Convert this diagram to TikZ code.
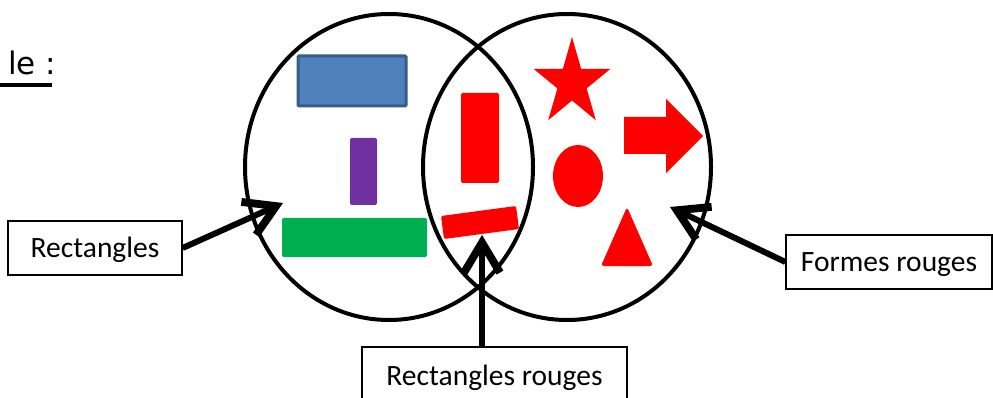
\documentclass[tikz,border=0pt]{standalone}
\usepackage{fontspec}
\setmainfont{Carlito}
\newfontfamily\titlefont{DejaVu Sans}
\usetikzlibrary{arrows.meta}
\definecolor{bluefill}{RGB}{79,129,189}
\definecolor{blueline}{RGB}{56,93,138}
\definecolor{purplefill}{RGB}{112,48,160}
\definecolor{greenfill}{RGB}{0,176,80}
\definecolor{redfill}{RGB}{255,0,0}
\begin{document}
\begin{tikzpicture}[x=1pt,y=-1pt,
  setline/.style={line width=4pt},
  labelbox/.style={draw, line width=1.2pt, inner sep=0pt, fill=white,
    text height=19pt, text depth=0pt,
    font=\fontsize{29.5}{35}\selectfont},
  conn/.style={line width=6pt, -{Straight Barb[length=30pt,width=36pt,line width=0pt 1.3,sharp]}},
  redshape/.style={fill=redfill}]
\useasboundingbox (0,0) rectangle (993,398);
\clip (0,0) rectangle (993,398);
% title
\node[anchor=base west, inner sep=0pt, font=\titlefont\fontsize{31}{36}\selectfont] (title) at (8,75) {le :};
\draw[line width=3.5pt] (0,85) -- (52,85);
% sets
\draw[setline] (389,167) ellipse [x radius=144pt, y radius=153pt];
\draw[setline] (567,167) ellipse [x radius=144pt, y radius=153pt];
% left shapes
\draw[fill=bluefill, draw=blueline, line width=3pt, rounded corners=1pt] (298,56) rectangle (406,106);
\fill[purplefill, rounded corners=2pt] (350,138) rectangle (377,205);
\fill[greenfill, rounded corners=2pt] (282,218) rectangle (427,257);
% intersection shapes
\fill[redshape, rounded corners=2pt] (461,93) rectangle (499,183);
\fill[redshape, rounded corners=2pt] (441,216) -- (516,206) -- (519,229) -- (444,239) -- cycle;
% right shapes
\fill[redshape] (572,37) -- (581.1,68.8) -- (610.5,68.8) -- (586.6,88.4) -- (595.8,120.2)
  -- (572,100.5) -- (548.2,120.2) -- (557.4,88.4) -- (533.5,68.8) -- (562.9,68.8) -- cycle;
\fill[redshape] (624,117) -- (666,117) -- (666,99) -- (703,136) -- (666,173) -- (666,154) -- (624,154) -- cycle;
\fill[redshape] (578,176) ellipse [x radius=25pt, y radius=31pt];
\fill[redshape, rounded corners=3pt] (627,207) -- (653,266) -- (601,266) -- cycle;
% label boxes
\node[labelbox, minimum width=174pt, minimum height=54pt] (rect) at (95,248) {Rectangles};
\node[labelbox, minimum width=265pt, minimum height=57pt] (rr) at (494.5,375.5) {Rectangles rouges};
\node[labelbox, minimum width=206pt, minimum height=54pt] (fr) at (889,262) {Formes rouges};
% connector tips
\coordinate (tipL) at (283,203);
\coordinate (tipM) at (482,235);
\coordinate (tipR) at (670,207);
\draw[conn] (rect.east) -- (tipL);
\draw[conn] (rr.north -| tipM) -- (tipM);
\draw[conn] (fr.west) -- (tipR);
\end{tikzpicture}
\end{document}
